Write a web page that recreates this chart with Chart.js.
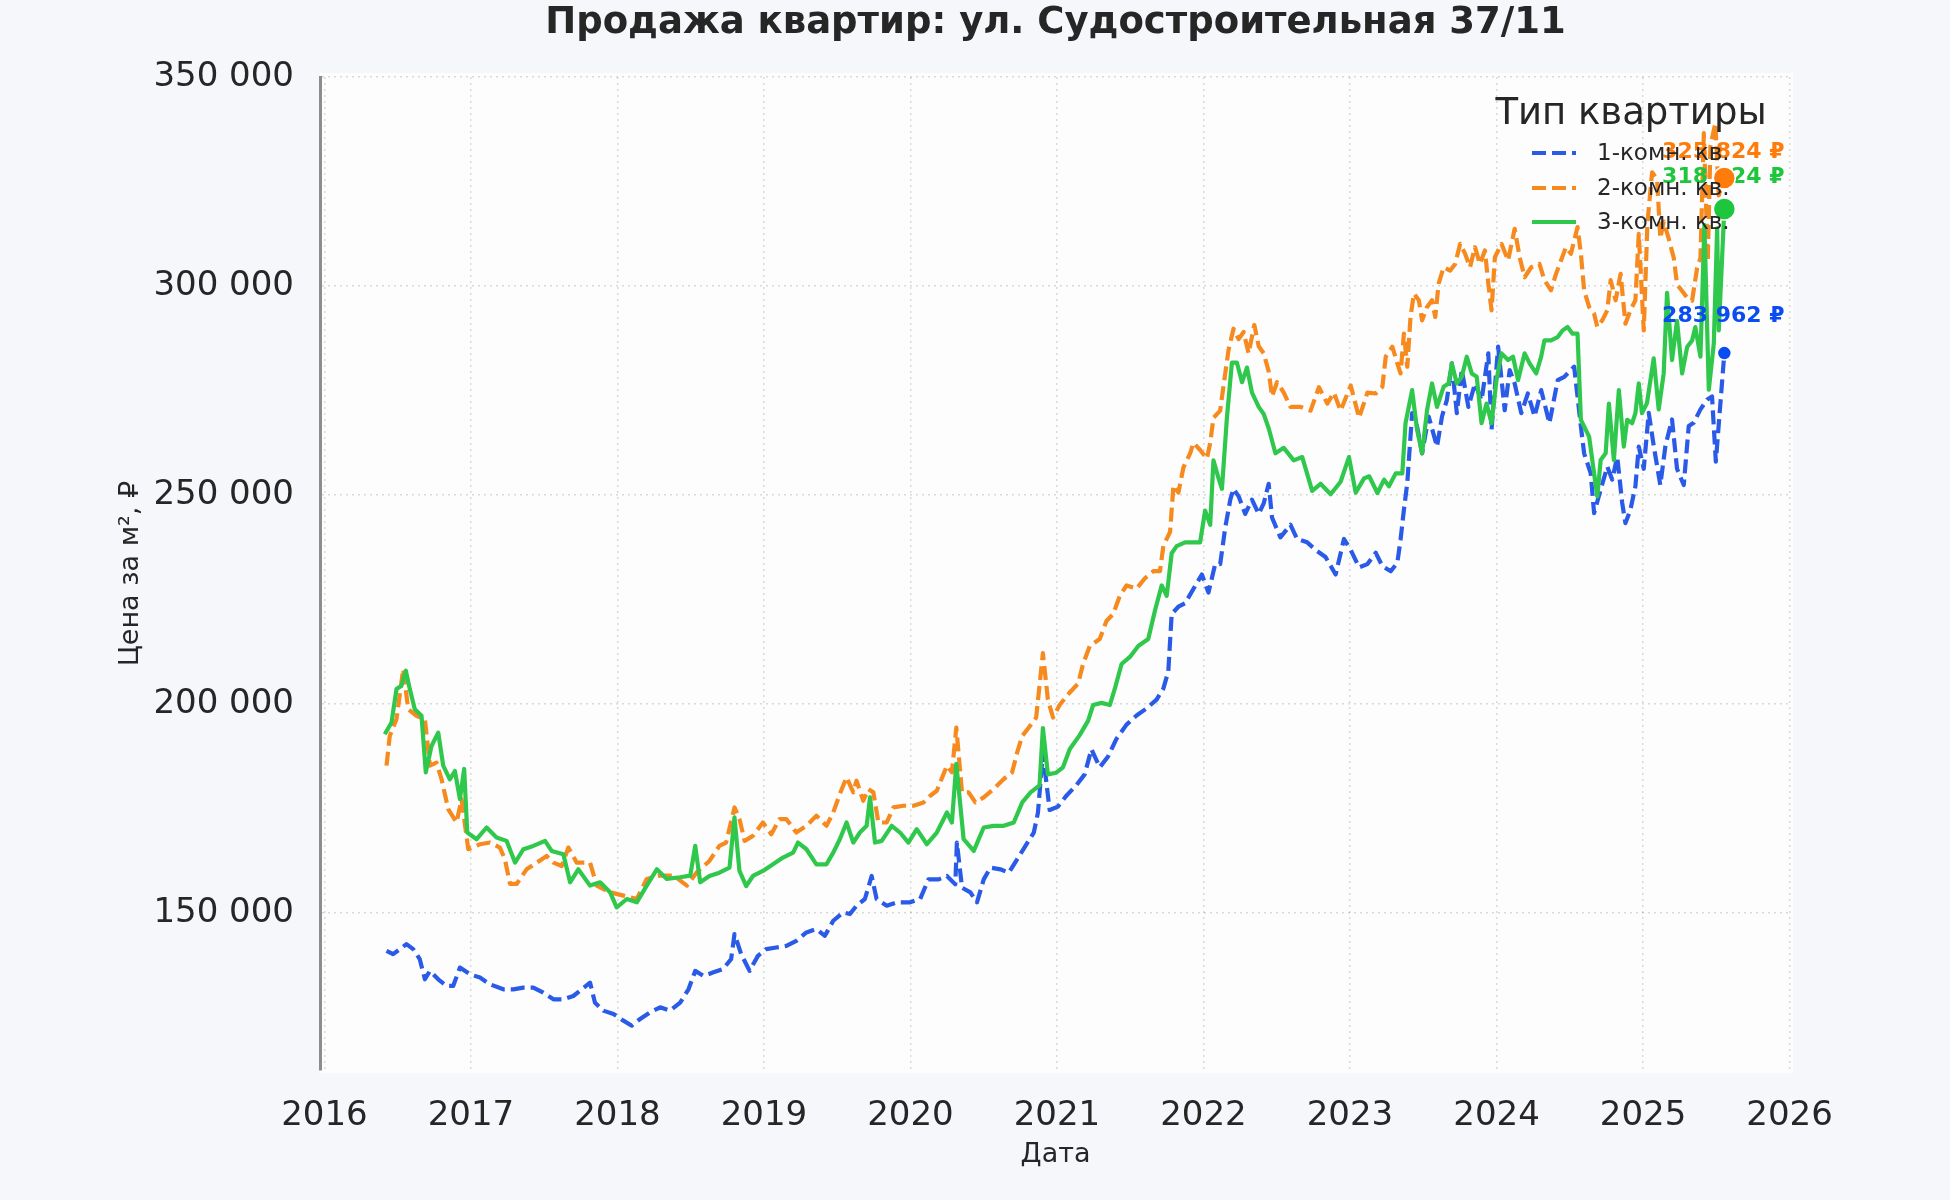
<!DOCTYPE html>
<html>
<head>
<meta charset="utf-8">
<script src="https://cdn.jsdelivr.net/npm/chart.js@4.4.1/dist/chart.umd.min.js"></script>
<style>
html,body{margin:0;padding:0;background:#f6f7fb;}
#c{display:block;}
</style>
</head>
<body>
<canvas id="c" width="1950" height="1200"></canvas>
<script>
// ---------- text ----------
const chartTitle = 'Продажа квартир: ул. Судостроительная 37/11';
const legendTitle = 'Тип квартиры';
const seriesNames = ['1-комн. кв.', '2-комн. кв.', '3-комн. кв.'];
const xAxisTitle = 'Дата';
const yAxisTitle = 'Цена за м², ₽';

// ---------- tick labels ----------
const yearTicks = [2016, 2017, 2018, 2019, 2020, 2021, 2022, 2023, 2024, 2025, 2026];
const priceTicks = [150000, 200000, 250000, 300000, 350000];

// ---------- 1-комн. кв. ----------
const dates1 = [
2016.424,2016.469,2016.515,2016.560,2016.606,2016.651,2016.686,2016.720,2016.777,2016.834,2016.879,2016.925,2016.993,
2017.062,2017.130,2017.221,2017.289,2017.358,2017.426,2017.494,2017.563,2017.631,2017.699,2017.756,2017.813,2017.847,2017.904,2017.973,
2018.041,2018.098,2018.155,2018.223,2018.292,2018.360,2018.428,2018.485,2018.531,2018.588,2018.651,2018.719,2018.776,2018.799,2018.845,2018.902,2018.959,
2019.016,2019.084,2019.153,2019.221,2019.290,2019.358,2019.416,2019.473,2019.541,2019.587,2019.632,2019.689,2019.735,2019.769,2019.838,2019.906,2019.998,
2020.066,2020.123,2020.192,2020.249,2020.306,2020.317,2020.352,2020.409,2020.454,2020.500,2020.546,2020.614,2020.671,2020.728,2020.785,2020.842,2020.870,2020.904,2020.950,
2021.007,2021.064,2021.132,2021.189,2021.235,2021.292,2021.349,2021.406,2021.475,2021.543,2021.612,2021.680,2021.726,2021.760,2021.783,2021.829,2021.874,2021.932,2021.989,
2022.034,2022.080,2022.114,2022.148,2022.183,2022.205,2022.240,2022.285,2022.331,2022.377,2022.411,2022.445,2022.468,2022.525,2022.594,2022.639,2022.708,2022.765,2022.833,2022.902,2022.959,
2023.005,2023.062,2023.119,2023.176,2023.221,2023.278,2023.323,2023.345,2023.368,2023.391,2023.424,2023.458,2023.492,2023.537,2023.594,2023.628,2023.661,2023.695,2023.729,2023.763,2023.808,2023.853,2023.898,2023.944,2023.966,
2024.011,2024.056,2024.090,2024.124,2024.169,2024.214,2024.260,2024.305,2024.361,2024.418,2024.463,2024.530,2024.576,2024.598,2024.643,2024.666,2024.711,2024.756,2024.790,2024.824,2024.858,2024.880,2024.914,2024.948,2024.971,
2025.005,2025.039,2025.073,2025.118,2025.153,2025.198,2025.232,2025.278,2025.312,2025.346,2025.392,2025.437,2025.471,2025.497,2025.555
];
const prices1 = [
141000,140200,141400,142600,141400,139000,134200,136200,134200,132600,132600,137000,135400,
134600,133000,131800,131800,132200,132200,131000,129400,129400,130200,131800,133400,128600,126700,125900,
124300,123100,124700,126300,127500,126700,128600,131800,136200,135000,135800,136600,139000,145000,140200,136200,139800,
141400,141800,142200,143400,145400,146200,144600,148200,150200,149800,151800,153400,158900,153400,151800,152600,152600,
153400,158100,158100,158900,156900,166900,156100,155000,152600,158100,160900,160500,159700,162900,166100,169300,174000,188300,174700,
175500,178100,180600,183200,189200,184900,187500,191700,195100,197300,199000,201100,203700,207900,221600,223300,224100,227600,231000,
226700,233500,233500,242100,248900,251500,249700,245500,248900,245500,248000,252700,244600,239900,242900,239500,238700,236900,235200,231000,239500,
236900,232700,233500,236200,233000,231800,233800,239300,246500,252900,269600,266400,260000,268800,261600,268800,272700,281500,269600,279900,271100,276700,272700,283900,265600,
285500,270300,279900,276700,269600,274300,268800,275100,267200,277500,278300,280700,266400,260000,255200,245700,251300,256800,253700,259200,248100,243300,246500,252100,261600,
256300,269700,261800,252400,261800,268100,256300,252400,266500,267300,270500,272800,273600,258000,283962
];

// ---------- 2-комн. кв. ----------
const dates2 = [
2016.424,2016.446,2016.492,2016.538,2016.572,2016.629,2016.686,2016.720,2016.765,2016.800,2016.845,2016.902,2016.936,2016.982,
2017.062,2017.130,2017.198,2017.232,2017.267,2017.312,2017.380,2017.449,2017.517,2017.563,2017.620,2017.665,2017.722,2017.813,2017.859,2017.950,
2018.041,2018.132,2018.200,2018.292,2018.383,2018.474,2018.542,2018.628,2018.696,2018.742,2018.799,2018.833,2018.868,2018.925,2018.993,
2019.050,2019.107,2019.153,2019.221,2019.290,2019.358,2019.427,2019.473,2019.518,2019.564,2019.610,2019.632,2019.678,2019.712,2019.747,2019.781,2019.838,2019.884,2019.952,
2020.021,2020.089,2020.135,2020.180,2020.249,2020.283,2020.313,2020.352,2020.397,2020.443,2020.500,2020.568,2020.637,2020.694,2020.728,2020.763,2020.808,2020.858,2020.904,2020.938,2020.973,
2021.018,2021.087,2021.144,2021.178,2021.224,2021.292,2021.338,2021.384,2021.429,2021.475,2021.543,2021.600,2021.658,2021.703,2021.726,2021.772,2021.795,2021.829,2021.863,2021.909,2021.932,2021.977,
2022.023,2022.046,2022.068,2022.114,2022.137,2022.171,2022.205,2022.240,2022.274,2022.308,2022.347,2022.377,2022.411,2022.445,2022.468,2022.502,2022.548,2022.594,2022.662,2022.731,2022.788,2022.845,2022.890,2022.936,
2023.005,2023.062,2023.119,2023.176,2023.221,2023.244,2023.289,2023.323,2023.345,2023.368,2023.391,2023.413,2023.436,2023.470,2023.492,2023.526,2023.560,2023.582,2023.605,2023.639,2023.684,2023.718,2023.752,2023.786,2023.819,2023.853,2023.887,2023.921,2023.944,2023.966,2023.989,
2024.034,2024.079,2024.124,2024.158,2024.192,2024.237,2024.293,2024.327,2024.372,2024.406,2024.440,2024.474,2024.508,2024.553,2024.576,2024.598,2024.632,2024.666,2024.688,2024.722,2024.756,2024.779,2024.813,2024.847,2024.880,2024.914,2024.948,2024.971,
2025.005,2025.030,2025.062,2025.096,2025.118,2025.141,2025.175,2025.210,2025.232,2025.267,2025.301,2025.335,2025.369,2025.392,2025.415,2025.442,2025.460,2025.494,2025.517,2025.555
];
const prices2 = [
185300,192400,196400,208400,198800,197200,196400,185300,186000,182000,174900,171700,177300,165300,
166500,166900,165700,162900,157000,157000,160500,162100,163700,162100,161300,165700,162100,162100,156600,155000,
154200,153400,158200,159000,159000,156600,159800,162500,166100,166900,175300,172500,167300,168500,171700,
168900,172500,172500,169300,170900,173300,170900,174100,178500,182500,178900,181700,176900,179700,178900,171700,171700,175300,175700,
175700,176500,178100,179300,185300,183700,194400,178900,178900,176500,177700,179700,182100,183700,188400,192400,194400,196800,212200,201100,196800,
199800,202800,204900,209600,213900,215600,219900,221600,225900,228400,227600,230100,231800,231800,237800,241200,252300,250600,256600,260000,262500,260800,
258700,262500,268500,270200,276200,284700,289800,287300,289000,283900,290700,285600,283900,279600,273600,277000,274500,271100,271100,270200,275800,271900,274500,270200,
276200,268500,274500,274300,275900,283100,285500,281500,279100,288600,280700,292600,298200,296600,291800,295000,296600,292600,300600,304500,303700,305300,310100,307700,304500,309300,305300,308500,300600,294200,306900,
310100,306100,313700,306900,302100,304500,305300,301400,299000,302900,306100,309300,307700,314100,307700,299000,295000,293400,290200,291800,294200,301400,296600,302900,291000,294200,296600,312500,
289400,315000,327200,325600,311400,315400,311400,306700,300400,298800,297200,296500,304300,306700,336600,305900,333500,339000,321700,325824
];

// ---------- 3-комн. кв. ----------
const dates3 = [
2016.412,2016.458,2016.492,2016.526,2016.556,2016.583,2016.617,2016.663,2016.692,2016.731,2016.777,2016.811,2016.856,2016.891,2016.925,2016.954,2016.975,
2017.039,2017.107,2017.175,2017.244,2017.301,2017.358,2017.426,2017.506,2017.551,2017.631,2017.677,2017.733,2017.813,2017.882,2017.950,2017.995,
2018.064,2018.132,2018.200,2018.269,2018.337,2018.428,2018.497,2018.531,2018.565,2018.628,2018.696,2018.765,2018.799,2018.833,2018.879,2018.925,2018.993,
2019.062,2019.130,2019.199,2019.233,2019.290,2019.358,2019.427,2019.473,2019.518,2019.564,2019.610,2019.655,2019.701,2019.724,2019.758,2019.804,2019.872,2019.929,2019.986,
2020.043,2020.112,2020.180,2020.249,2020.283,2020.313,2020.363,2020.432,2020.500,2020.568,2020.637,2020.705,2020.763,2020.820,2020.881,2020.904,2020.938,2020.995,
2021.041,2021.087,2021.155,2021.212,2021.247,2021.304,2021.361,2021.395,2021.441,2021.498,2021.555,2021.623,2021.669,2021.715,2021.749,2021.783,2021.817,2021.874,2021.932,2021.977,
2022.011,2022.046,2022.068,2022.103,2022.126,2022.160,2022.194,2022.228,2022.263,2022.297,2022.331,2022.377,2022.411,2022.445,2022.491,2022.548,2022.616,2022.674,2022.742,2022.799,2022.868,2022.936,2022.993,
2023.039,2023.096,2023.131,2023.187,2023.233,2023.266,2023.312,2023.357,2023.379,2023.424,2023.458,2023.492,2023.526,2023.560,2023.594,2023.639,2023.673,2023.695,2023.729,2023.763,2023.797,2023.831,2023.865,2023.898,2023.932,2023.966,
2024.000,2024.034,2024.079,2024.113,2024.147,2024.192,2024.226,2024.271,2024.305,2024.327,2024.372,2024.418,2024.451,2024.485,2024.519,2024.553,2024.576,2024.598,2024.632,2024.666,2024.688,2024.711,2024.745,2024.767,2024.801,2024.835,2024.869,2024.892,2024.926,2024.948,2024.971,2024.993,
2025.027,2025.073,2025.107,2025.141,2025.164,2025.198,2025.232,2025.267,2025.301,2025.335,2025.357,2025.392,2025.419,2025.449,2025.483,2025.506,2025.517,2025.555
];
const prices3 = [
192800,195600,203600,204400,208000,203600,198800,197200,183700,190000,193200,185300,182000,184000,177300,184500,169300,
167700,170500,168100,167300,162100,165300,166100,167300,164900,164100,157400,160500,156600,157400,155000,151400,
153400,152600,156600,160500,158200,158600,159000,166100,157400,158900,159700,160900,172900,160100,156500,158900,160100,
161700,163300,164500,166900,165300,161700,161700,164500,167700,171700,166900,169300,170900,177700,166900,167300,170900,169300,166900,
170100,166500,169300,174100,171700,185700,167700,164900,170500,170900,170900,171700,176500,178900,180600,194300,183200,183600,
184900,189200,192600,196000,199800,200300,199800,203700,209600,211300,213900,215600,222400,228400,225900,236100,237800,238700,238700,238700,
246300,242900,258300,254000,251500,268500,281700,281700,277000,280500,274500,271100,269400,266000,260000,261300,258300,259100,251000,252700,250200,253200,259100,
250600,254000,254500,250500,253700,252100,255200,255200,267200,275100,265600,260000,270300,276700,271100,275900,276700,281500,276700,278300,283100,279100,278300,267200,271900,267200,
277500,283900,282300,283100,277500,283900,281500,279100,283100,287000,287000,287800,289400,290200,288600,288600,268000,266400,264000,255200,249700,258400,260000,271900,258400,275100,261600,268000,267200,269600,276700,269600,
272000,282700,270500,279100,298400,282300,291700,279100,285400,287000,290200,283100,314600,275200,286200,313800,289400,318424
];

// ---------- styles ----------
const FONT = '"DejaVu Sans", "Noto Sans", sans-serif';
const TEXT = '#262626';
const BG = '#f6f7fb';
const PLOT_BG = '#fdfdfd';
const lineColors = ['#2a5ae8', '#f78a1f', '#2fc84c'];
const markColors = ['#0a4cf2', '#ff7c0a', '#1ec63e'];
const dashes = [[14, 6], [14, 6], []];
const markRadius = [7, 11, 11];
const labelOffset = [37, 26, 32];

function fmt(v) { return String(Math.round(v)).replace(/\B(?=(\d{3})+(?!\d))/g, ' '); }

const allDates = [dates1, dates2, dates3];
const allPrices = [prices1, prices2, prices3];

const datasets = seriesNames.map((name, k) => ({
  label: name,
  data: allDates[k].map((d, i) => ({ x: d, y: allPrices[k][i] })),
  borderColor: lineColors[k],
  backgroundColor: lineColors[k],
  borderWidth: 4.2,
  borderDash: dashes[k],
  borderJoinStyle: 'round',
  pointRadius: 0,
  tension: 0,
  fill: false,
  order: 3 - k
}));

const decorPlugin = {
  id: 'decor',
  beforeDraw(chart) {
    const { ctx, chartArea: a } = chart;
    ctx.save();
    ctx.fillStyle = BG;
    ctx.fillRect(0, 0, chart.width, chart.height);
    ctx.fillStyle = PLOT_BG;
    ctx.fillRect(a.left, a.top - 4, a.right - a.left + 2, a.bottom - a.top + 7);
    ctx.restore();
  },
  afterDraw(chart) {
    const { ctx, chartArea: a, scales } = chart;
    const xs = scales.x, ys = scales.y;
    ctx.save();
    // title
    ctx.fillStyle = TEXT;
    ctx.font = 'bold 37px ' + FONT;
    ctx.textAlign = 'center';
    ctx.textBaseline = 'middle';
    ctx.fillText(chartTitle, (a.left + a.right) / 2, 23);

    // end-value labels
    const pts = seriesNames.map((n, k) => {
      const n1 = allDates[k].length - 1;
      return { x: xs.getPixelForValue(allDates[k][n1]), y: ys.getPixelForValue(allPrices[k][n1]), v: allPrices[k][n1] };
    });
    ctx.font = 'bold 22px ' + FONT;
    pts.forEach((p, k) => {
      ctx.fillStyle = markColors[k];
      ctx.fillText(fmt(p.v) + ' ₽', p.x - 1, p.y - labelOffset[k]);
    });
    // markers
    pts.forEach((p, k) => {
      ctx.beginPath();
      ctx.arc(p.x, p.y, markRadius[k], 0, Math.PI * 2);
      ctx.fillStyle = markColors[k];
      ctx.fill();
      ctx.lineWidth = 1.5;
      ctx.strokeStyle = '#ffffff';
      ctx.stroke();
    });

    // legend
    ctx.fillStyle = TEXT;
    ctx.font = '37px ' + FONT;
    ctx.textAlign = 'center';
    ctx.fillText(legendTitle, 1631, 114);
    const rows = [153, 188, 222];
    ctx.font = '23px ' + FONT;
    ctx.textAlign = 'left';
    seriesNames.forEach((n, k) => {
      ctx.save();
      ctx.strokeStyle = lineColors[k];
      ctx.lineWidth = 4.2;
      ctx.setLineDash(dashes[k]);
      ctx.beginPath();
      ctx.moveTo(1532, rows[k]);
      ctx.lineTo(1576, rows[k]);
      ctx.stroke();
      ctx.restore();
      ctx.fillStyle = TEXT;
      ctx.fillText(n, 1597, rows[k] + 1);
    });
    ctx.restore();
  }
};

new Chart(document.getElementById('c'), {
  type: 'line',
  data: { datasets },
  plugins: [decorPlugin],
  options: {
    responsive: false,
    animation: false,
    devicePixelRatio: 1,
    parsing: false,
    events: [],
    layout: { padding: { left: 0, right: 159, top: 77, bottom: 0 } },
    plugins: {
      legend: { display: false },
      title: { display: false },
      tooltip: { enabled: false }
    },
    scales: {
      x: {
        type: 'linear',
        min: 2015.97,
        max: 2026.01,
        afterBuildTicks: s => { s.ticks = yearTicks.map(v => ({ value: v })); },
        afterFit: s => { s.height = 130; },
        ticks: {
          font: { family: FONT, size: 34 },
          color: TEXT,
          padding: 26,
          maxRotation: 0,
          autoSkip: false,
          callback: v => String(v)
        },
        grid: { color: 'rgba(0,0,0,0.14)', lineWidth: 1.5, drawTicks: false },
        border: { display: false, dash: [2, 4] },
        title: {
          display: true, text: xAxisTitle,
          font: { family: FONT, size: 27 }, color: TEXT,
          padding: { top: 0, bottom: 29 }
        }
      },
      y: {
        type: 'linear',
        min: 112500,
        max: 350000,
        afterBuildTicks: s => { s.ticks = priceTicks.map(v => ({ value: v })); },
        afterFit: s => { s.width = 320; },
        ticks: {
          font: { family: FONT, size: 34 },
          color: TEXT,
          padding: 26,
          autoSkip: false,
          callback: v => fmt(v)
        },
        grid: { color: 'rgba(0,0,0,0.14)', lineWidth: 1.5, drawTicks: false },
        border: { display: true, color: '#8c8c8c', width: 3, dash: [2, 4] },
        title: {
          display: true, text: yAxisTitle,
          font: { family: FONT, size: 27 }, color: TEXT,
          padding: { top: 115, bottom: 0 }
        }
      }
    }
  }
});
</script>
</body>
</html>
